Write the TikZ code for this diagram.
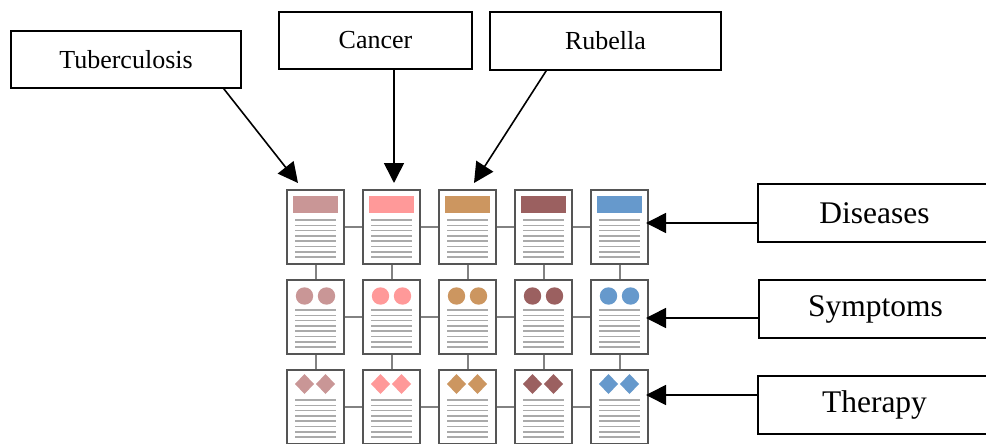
\documentclass[tikz,border=0pt]{standalone}
\usepackage{fontspec}
\setmainfont{Liberation Serif}
\usetikzlibrary{arrows.meta,calc}
\definecolor{cA}{RGB}{201,150,150}
\definecolor{cB}{RGB}{255,153,153}
\definecolor{cC}{RGB}{204,150,96}
\definecolor{cD}{RGB}{155,96,96}
\definecolor{cE}{RGB}{102,153,204}
\definecolor{cardgray}{RGB}{85,85,85}
\definecolor{linkgray}{RGB}{130,130,130}
\definecolor{txtgray}{RGB}{170,170,170}
\begin{document}
\begin{tikzpicture}[x=1pt,y=-1pt,
  lbl/.style={draw=black, line width=1.6pt, fill=white, inner sep=0pt},
  toplbl/.style={lbl, font=\fontsize{26}{30}\selectfont},
  sidelbl/.style={lbl, font=\fontsize{31.5}{36}\selectfont, minimum width=233pt, minimum height=58pt},
  card/.style={draw=cardgray, line width=2.2pt, fill=white, minimum width=57pt, minimum height=74pt, inner sep=0pt},
  link/.style={draw=linkgray, line width=2pt},
  txtline/.style={draw=txtgray, line width=1.6pt},
  arr/.style={-{Triangle[length=20pt,width=20pt]}, line width=1.6pt}]
\useasboundingbox (0,0) rectangle (986,444);
\clip (0,0) rectangle (986,444);

% cards
\foreach \i/\col in {0/cA,1/cB,2/cC,3/cD,4/cE}{
  \pgfmathsetmacro{\cx}{315.5+76*\i}
  % diseases row
  \node[card] (c\i-0) at (\cx,227) {};
  \fill[\col] (\cx-22.5,196) rectangle (\cx+22.5,213);
  \foreach \k in {0,...,7} \draw[txtline] (\cx-20.5,{220+\k*5.3}) -- ++(41,0);
  % symptoms row
  \node[card] (c\i-1) at (\cx,317) {};
  \fill[\col] (\cx-11,296) circle (8.7);
  \fill[\col] (\cx+11,296) circle (8.7);
  \foreach \k in {0,...,7} \draw[txtline] (\cx-20.5,{310+\k*5.3}) -- ++(41,0);
  % therapy row
  \node[card] (c\i-2) at (\cx,407) {};
  \fill[\col] (\cx-11,374) -- (\cx-1.5,384) -- (\cx-11,394) -- (\cx-20.5,384) -- cycle;
  \fill[\col] (\cx+10,374) -- (\cx+19.5,384) -- (\cx+10,394) -- (\cx+0.5,384) -- cycle;
  \foreach \k in {0,...,7} \draw[txtline] (\cx-20.5,{400+\k*5.3}) -- ++(41,0);
}

% connectors between cards
\foreach \r in {0,1,2}{
  \foreach \i/\j in {0/1,1/2,2/3,3/4}{
    \draw[link] (c\i-\r.east) -- (c\j-\r.west);
  }
}
\foreach \i in {0,...,4}{
  \draw[link] (c\i-0.south) -- (c\i-1.north);
  \draw[link] (c\i-1.south) -- (c\i-2.north);
}

% top labels
\node[toplbl, minimum width=230pt, minimum height=57pt] (tb) at (126,59.5) {Tuberculosis};
\node[toplbl, minimum width=193pt, minimum height=57pt] (cn) at (375.5,40.5) {Cancer};
\node[toplbl, minimum width=231pt, minimum height=58pt] (rb) at (605.5,41) {Rubella};

% side labels
\node[sidelbl] (dis) at (874.5,213) {Diseases};
\node[sidelbl] (sym) at (875.5,309) {Symptoms};
\node[sidelbl] (thr) at (874.5,405) {Therapy};

% arrow targets
\coordinate (t1) at (298,183);
\coordinate (t2) at (394,183);
\coordinate (t3) at (474,183);
\coordinate (s1) at (646,223);
\coordinate (s2) at (646,318);
\coordinate (s3) at (646,395);

\draw[arr] ($(tb.south east)+(-18,0)$) -- (t1);
\draw[arr] (cn.south -| t2) -- (t2);
\draw[arr] ($(rb.south west)+(57,0)$) -- (t3);
\draw[arr] (dis.west |- s1) -- (s1);
\draw[arr] (sym.west |- s2) -- (s2);
\draw[arr] (thr.west |- s3) -- (s3);
\end{tikzpicture}
\end{document}
